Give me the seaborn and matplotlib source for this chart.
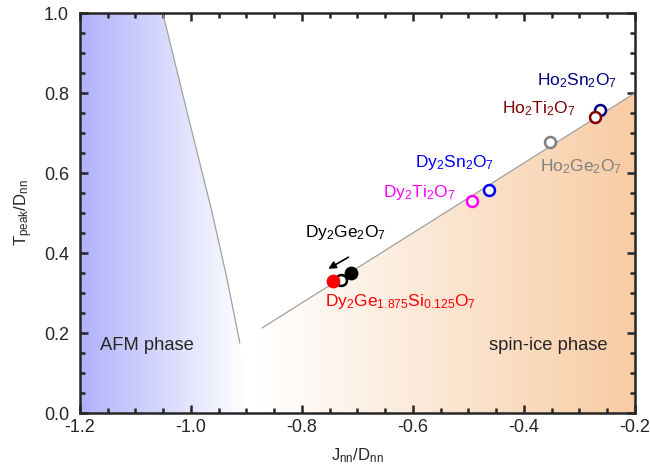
import numpy as np
import pandas as pd
import matplotlib
matplotlib.use("Agg")
import matplotlib.pyplot as plt
import seaborn as sns
from matplotlib.patches import Polygon

# ---- data ----
afm_x = [-1.05, -1.008, -0.963, -0.936, -0.912]
afm_y = [0.991, 0.7575, 0.5075, 0.341, 0.175]
ice_x = [-0.872, -0.2]
ice_y = [0.2125, 0.80]

names = ["Ho2Sn2O7", "Ho2Ti2O7", "Ho2Ge2O7", "Dy2Sn2O7", "Dy2Ti2O7", "Dy2Ge2O7_open"]
open_x = [-0.263, -0.272, -0.353, -0.463, -0.494, -0.730]
open_y = [0.757, 0.740, 0.678, 0.557, 0.530, 0.332]
open_c = ["#000080", "#800000", "#808080", "#0000ff", "#ff00ff", "#000000"]

filled_x = [-0.744, -0.712]
filled_y = [0.330, 0.349]
filled_c = ["#ff0000", "#000000"]

labels = [r"Ho$_2$Sn$_2$O$_7$", r"Ho$_2$Ti$_2$O$_7$", r"Ho$_2$Ge$_2$O$_7$",
          r"Dy$_2$Sn$_2$O$_7$", r"Dy$_2$Ti$_2$O$_7$", r"Dy$_2$Ge$_2$O$_7$",
          r"Dy$_2$Ge$_{1.875}$Si$_{0.125}$O$_7$"]
label_x = [-0.232, -0.308, -0.371, -0.596, -0.654, -0.795, -0.759]
label_y = [0.832, 0.760, 0.615, 0.625, 0.550, 0.450, 0.278]
label_ha = ["right", "right", "left", "left", "left", "left", "left"]
label_c = ["#000080", "#800000", "#808080", "#0000ff", "#ff00ff", "#000000", "#ff0000"]

xticks = [-1.2, -1.0, -0.8, -0.6, -0.4, -0.2]
yticks = [0.0, 0.2, 0.4, 0.6, 0.8, 1.0]

sns.set_style("ticks")
plt.rcParams["font.family"] = ["Liberation Sans", "DejaVu Sans"]
plt.rcParams["mathtext.fontset"] = "custom"
plt.rcParams["mathtext.rm"] = "Liberation Sans"
plt.rcParams["mathtext.it"] = "Liberation Sans"
plt.rcParams["mathtext.default"] = "regular"

fig = plt.figure(figsize=(6.5, 4.68), dpi=100)
ax = fig.add_axes([80/650, 1-413/468, 555/650, 400/468])
ax.set_xlim(-1.2, -0.2)
ax.set_ylim(0, 1.0)

# gradients
nx = 400
xs = np.linspace(-1.2, -0.2, nx)
blue = np.array([176, 178, 250]) / 255
orange = np.array([248, 204, 164]) / 255
tb = np.clip((xs + 1.2) / 0.3, 0, 1)
imb = np.ones((2, nx, 3)) * (blue[None, None, :] * (1 - tb)[None, :, None] + (tb)[None, :, None])
im1 = ax.imshow(imb, extent=[-1.2, -0.2, 0, 1], aspect="auto", origin="lower", zorder=0,
                interpolation="bilinear")
clip1 = Polygon([[-1.2, 1.0], [-1.05, 1.0]] + list(zip(afm_x, afm_y)) + [[-0.9, 0.0], [-1.2, 0.0]],
                closed=True, transform=ax.transData)
im1.set_clip_path(clip1)
to = np.clip((xs + 0.87) / 0.67, 0, 1)
imo = np.ones((2, nx, 3)) * (orange[None, None, :] * to[None, :, None] + (1 - to)[None, :, None])
im2 = ax.imshow(imo, extent=[-1.2, -0.2, 0, 1], aspect="auto", origin="lower", zorder=0,
                interpolation="bilinear")
clip2 = Polygon([[-0.9, 0.0], [-0.912, 0.175], [-0.872, 0.2125], [-0.2, 0.8], [-0.2, 0.0]],
                closed=True, transform=ax.transData)
im2.set_clip_path(clip2)

# boundary lines
sns.lineplot(x=[-1.05] + afm_x, y=[1.0] + afm_y, ax=ax, color="#a0a0a0", lw=0.9, sort=False, zorder=2)
sns.lineplot(x=ice_x, y=ice_y, ax=ax, color="#a0a0a0", lw=0.9, sort=False, zorder=2)

# open points
for i in range(len(open_x)):
    sns.scatterplot(x=[open_x[i]], y=[open_y[i]], ax=ax, s=62, facecolor="white",
                    edgecolor=open_c[i], linewidth=1.8, zorder=3)
for i in range(len(filled_x)):
    sns.scatterplot(x=[filled_x[i]], y=[filled_y[i]], ax=ax, s=80, color=filled_c[i],
                    edgecolor=filled_c[i], linewidth=1.0, zorder=4 + i)

# arrow
ax.annotate("", xy=(-0.757, 0.357), xytext=(-0.712, 0.393),
            arrowprops=dict(arrowstyle="-|>", color="black", lw=1.2, mutation_scale=11))

for t, x, y, ha, c in zip(labels, label_x, label_y, label_ha, label_c):
    ax.text(x, y, t, color=c, ha=ha, va="center", fontsize=12.5)

ax.text(-1.164, 0.17, "AFM phase", fontsize=13.2, va="center", ha="left")
ax.text(-0.249, 0.17, "spin-ice phase", fontsize=13.2, va="center", ha="right")

ax.set_xticks(xticks)
ax.set_yticks(yticks)
ax.set_xticklabels([f"{v:.1f}" for v in xticks])
ax.set_yticklabels([f"{v:.1f}" for v in yticks])
ax.set_xticks(np.arange(-1.2, -0.19, 0.05), minor=True)
ax.set_yticks(np.arange(0, 1.01, 0.05), minor=True)
ax.tick_params(which="both", direction="in", top=True, right=True, width=1.8, labelsize=13)
ax.tick_params(which="major", length=6)
ax.tick_params(which="minor", length=3.5)
ax.tick_params(axis="y", which="major", pad=8)
ax.tick_params(axis="x", which="major", pad=4)
for sp in ax.spines.values():
    sp.set_linewidth(1.8)
    sp.set_zorder(10)

ax.set_xlabel(r"J$_{nn}$/D$_{nn}$", fontsize=12, labelpad=8)
ax.set_ylabel(r"T$_{peak}$/D$_{nn}$", fontsize=12, labelpad=6)

fig.savefig("out.png", dpi=100)
